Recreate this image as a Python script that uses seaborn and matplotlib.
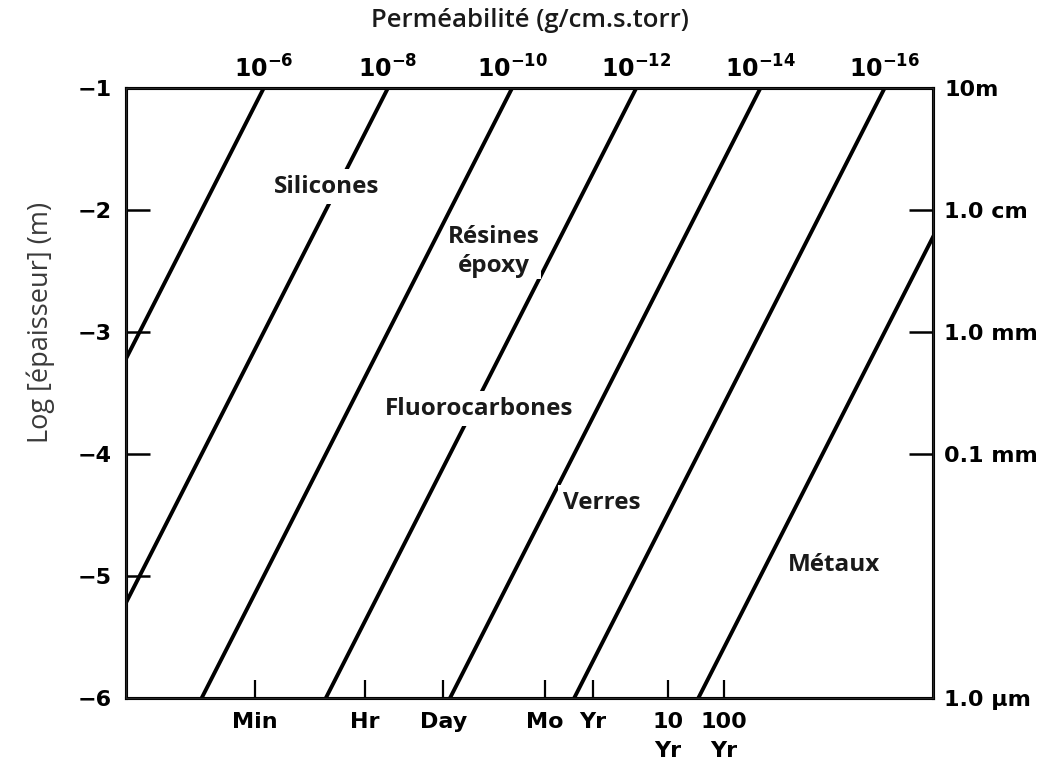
import numpy as np
import pandas as pd
import matplotlib
matplotlib.use("Agg")
import matplotlib.pyplot as plt
import seaborn as sns

# permeability exponents (g/cm.s.torr), one diagonal line each
perm_exp = [-6, -8, -10, -12, -14, -16, -18]
perm_top_labels = [r'$\mathbf{10^{-6}}$', r'$\mathbf{10^{-8}}$', r'$\mathbf{10^{-10}}$',
                   r'$\mathbf{10^{-12}}$', r'$\mathbf{10^{-14}}$', r'$\mathbf{10^{-16}}$']
log_thick = [-1, -6]
shift = -2.78  # log time axis: x = log(thickness) - log(permeability) + shift

# thickness axis
left_ticks = [-1, -2, -3, -4, -5, -6]
right_ticks = [-1, -2, -3, -4, -6]
right_labels = ['10m', '1.0 cm', '1.0 mm', '0.1 mm', '1.0 µm']

# time axis (log time units)
time_pos = [2.08, 3.85, 5.11, 6.75, 7.52, 8.73, 9.63]
time_labels = ['Min', 'Hr', 'Day', 'Mo', 'Yr', '10\nYr', '100\nYr']

# material labels
materials = ['Silicones', 'Résines\népoxy', 'Fluorocarbones', 'Verres', 'Métaux']
mat_x = [3.24, 5.93, 5.69, 7.67, 11.40]
mat_y = [-1.81, -2.34, -3.63, -4.40, -4.91]

rows = []
for p in perm_exp:
    for L in log_thick:
        rows.append({'perm': p, 'logL': L, 't': L - p + shift})
df = pd.DataFrame(rows)

sns.set_style("white")
plt.rcParams['font.family'] = ['DejaVu Sans']
plt.rcParams['mathtext.fontset'] = 'dejavusans'
plt.rcParams['xtick.color'] = 'black'
plt.rcParams['ytick.color'] = 'black'
plt.rcParams['text.color'] = 'black'

fig = plt.figure(figsize=(10.62, 7.66), dpi=100)
ax = fig.add_axes([0.1186, 0.0888, 0.760, 0.7963])

sns.lineplot(data=df, x='t', y='logL', units='perm', estimator=None,
             color='black', linewidth=2.8, ax=ax, legend=False, zorder=2)
ax.set_xlim(0, 13)
ax.set_ylim(-6, -1)
ax.set_xlabel('')
ax.set_ylabel('Log [épaisseur] (m)', fontsize=19.5, color='#3a3a3a',
              family='Open Sans')
ax.yaxis.set_label_coords(-0.088, 0.616)

for s in ax.spines.values():
    s.set_linewidth(2.2)
    s.set_color('black')

ax.set_yticks(left_ticks)
ax.set_yticklabels([f'\u2212{abs(v)}' for v in left_ticks])
ax.tick_params(axis='y', direction='in', length=17, width=1.8, pad=10,
               labelsize=16, left=True, colors='black')
ax.set_xticks(time_pos)
ax.set_xticklabels(time_labels)
ax.tick_params(axis='x', direction='in', length=13, width=1.6, pad=10,
               labelsize=16, bottom=True, colors='black')
for lab in ax.get_xticklabels() + ax.get_yticklabels():
    lab.set_fontweight('bold')
    lab.set_linespacing(1.6)

ax2 = ax.twinx()
ax2.set_ylim(-6, -1)
ax2.set_yticks(right_ticks)
ax2.set_yticklabels(right_labels, fontweight='bold')
ax2.tick_params(axis='y', direction='in', length=17, width=1.8, pad=8,
                labelsize=16, right=True, colors='black')
for s in ax2.spines.values():
    s.set_linewidth(2.2)
    s.set_color('black')

ax3 = ax.twiny()
ax3.set_xlim(0, 13)
ax3.set_xticks([-1 - p + shift for p in perm_exp[:6]])
ax3.set_xticklabels(perm_top_labels)
ax3.tick_params(axis='x', length=0, pad=4, labelsize=17, top=True, colors='black')
ax3.set_xlabel('Perméabilité (g/cm.s.torr)', fontsize=18.5, family='Open Sans',
               fontweight='semibold', labelpad=20, color='#1a1a1a')

box_pad = {'Résines\népoxy': 1}
for name, x, y in zip(materials, mat_x, mat_y):
    ax.text(x, y, name, ha='center', va='center', fontsize=17.5, family='Open Sans',
            fontweight='bold', color='#1a1a1a', multialignment='center',
            linespacing=1.25, zorder=5,
            bbox=dict(facecolor='white', edgecolor='none', pad=box_pad.get(name, 4)))

fig.savefig('out.png', dpi=100)
